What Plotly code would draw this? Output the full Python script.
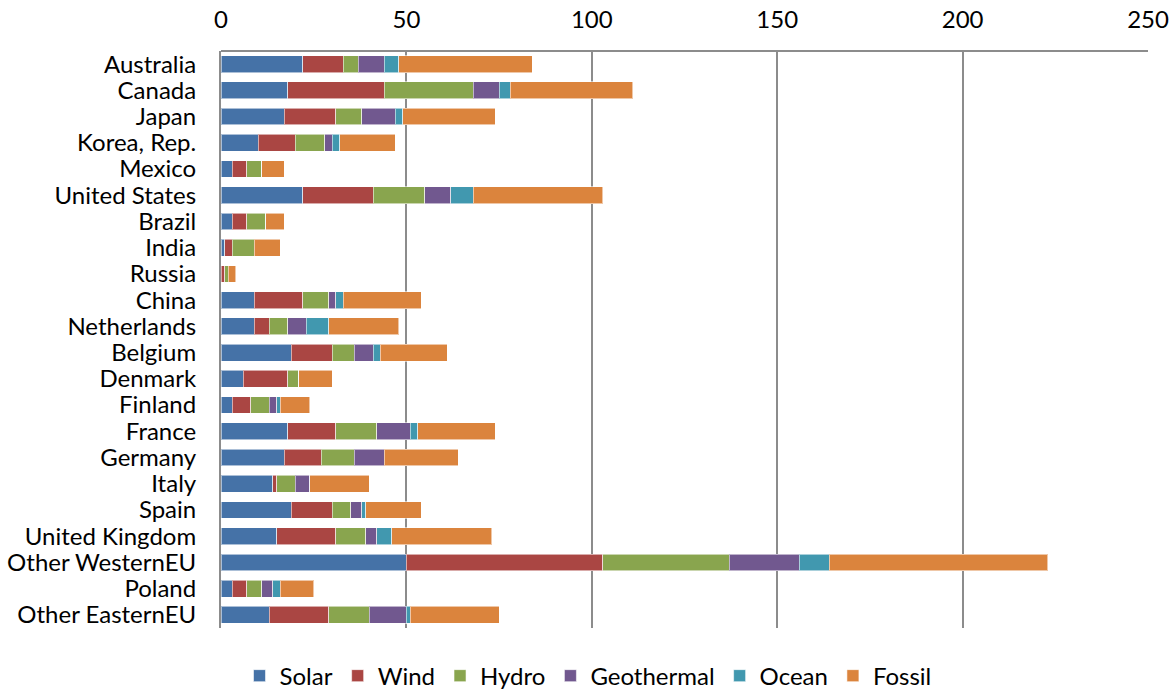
import plotly.graph_objects as go

countries = ["Australia", "Canada", "Japan", "Korea, Rep.", "Mexico", "United States",
             "Brazil", "India", "Russia", "China", "Netherlands", "Belgium", "Denmark",
             "Finland", "France", "Germany", "Italy", "Spain", "United Kingdom",
             "Other WesternEU", "Poland", "Other EasternEU"]

solar      = [22, 18, 17, 10, 3, 22, 3, 1, 0, 9, 9, 19, 6, 3, 18, 17, 14, 19, 15, 50, 3, 13]
wind       = [11, 26, 14, 10, 4, 19, 4, 2, 1, 13, 4, 11, 12, 5, 13, 10, 1, 11, 16, 53, 4, 16]
hydro      = [4, 24, 7, 8, 4, 14, 5, 6, 1, 7, 5, 6, 3, 5, 11, 9, 5, 5, 8, 34, 4, 11]
geothermal = [7, 7, 9, 2, 0, 7, 0, 0, 0, 2, 5, 5, 0, 2, 9, 8, 4, 3, 3, 19, 3, 10]
ocean      = [4, 3, 2, 2, 0, 6, 0, 0, 0, 2, 6, 2, 0, 1, 2, 0, 0, 1, 4, 8, 2, 1]
fossil     = [36, 33, 25, 15, 6, 35, 5, 7, 2, 21, 19, 18, 9, 8, 21, 20, 16, 15, 27, 59, 9, 24]
x_ticks    = [0, 50, 100, 150, 200, 250]

series = [("Solar", solar, "#4572A7"), ("Wind", wind, "#AA4643"), ("Hydro", hydro, "#89A54E"),
          ("Geothermal", geothermal, "#71588F"), ("Ocean", ocean, "#4198AF"),
          ("Fossil", fossil, "#DB843D")]

FONT = "Lato"
FS = 24

fig = go.Figure()
for name, vals, col in series:
    fig.add_trace(go.Bar(
        y=countries, x=vals, name=name, orientation="h",
        marker=dict(color=col, line=dict(color="rgba(255,255,255,0.55)", width=1)),
    ))

fig.update_layout(
    barmode="stack",
    bargap=0.36,
    width=1169, height=696,
    margin=dict(l=221, r=21, t=51, b=68),
    plot_bgcolor="white", paper_bgcolor="white",
    font=dict(family=FONT, size=FS, color="#000000"),
    showlegend=True,
    legend=dict(orientation="h", xref="container", yref="container",
                x=0.503, xanchor="center", y=0.061, yanchor="top",
                font=dict(family=FONT, size=FS), traceorder="normal",
                itemwidth=30, tracegroupgap=0),
    xaxis=dict(range=[0, 250], side="top", tickmode="array", tickvals=x_ticks,
               showgrid=True, gridcolor="#8c8c8c", gridwidth=2,
               zeroline=False, showline=False, ticks="", automargin=False,
               ticklabeloverflow="allow",
               tickfont=dict(family=FONT, size=FS), ticklabelstandoff=17),
    yaxis=dict(tickmode="array", tickvals=countries, ticktext=countries,
               categoryorder="array", categoryarray=countries, autorange="reversed",
               showline=True, linecolor="#8c8c8c", linewidth=2, mirror=False,
               ticks="", automargin=False, ticklabeloverflow="allow",
               tickfont=dict(family=FONT, size=FS), ticklabelstandoff=18),
)
fig.add_shape(type="line", xref="paper", yref="paper", x0=0, x1=1, y0=1, y1=1,
              line=dict(color="#8c8c8c", width=2))

fig.write_html("out.html")
